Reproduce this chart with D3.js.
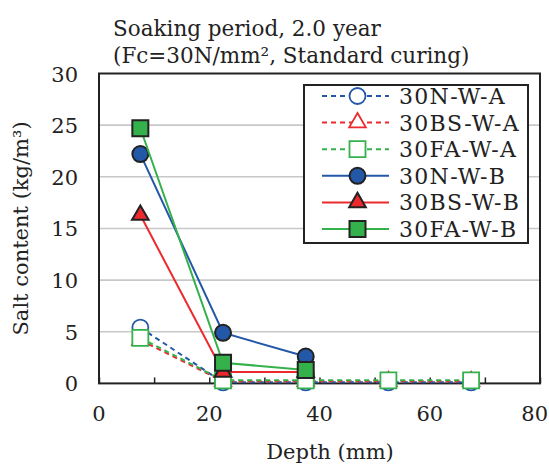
<!DOCTYPE html>
<html>
<head>
<title></title>
<script src='https://d3js.org/d3.v7.min.js'></script>
<style>
body {margin:0; background:white;}
text {font-family:"DejaVu Serif", serif; fill:#222;}
</style>
</head>
<body onload='init()'>
<svg width=549 height=466></svg>
<script>
// depth of each slice centre (mm)
var depth = [7.5, 22.5, 37.5, 52.5, 67.5];
var seriesNames = ["30N-W-A","30BS-W-A","30FA-W-A","30N-W-B","30BS-W-B","30FA-W-B"];
var n_w_a  = [5.4, 0.1, 0.1, 0.1, 0.1];
var bs_w_a = [4.2, 0.2, 0.2, 0.2, 0.2];
var fa_w_a = [4.4, 0.3, 0.3, 0.3, 0.3];
var n_w_b  = [22.2, 4.9, 2.6];
var bs_w_b = [16.3, 1.1, 1.1];
var fa_w_b = [24.7, 2.0, 1.3];
var xTicks = [0, 20, 40, 60, 80];
var yTicks = [0, 5, 10, 15, 20, 25, 30];

function init() {
var svg = d3.select("svg");
var left = 99, right = 540, top = 73.5, bottom = 383.4;
var x = d3.scaleLinear().domain([0,80]).range([left,right]);
var y = d3.scaleLinear().domain([0,30]).range([bottom,top]);

var blue = "#2357a8", red = "#ec2a2e", green = "#35b14c";
var series = [
  {name:seriesNames[0], vals:n_w_a,  color:blue,  shape:d3.symbolCircle,   size:201, dash:"5,4", open:true},
  {name:seriesNames[1], vals:bs_w_a, color:red,   shape:d3.symbolTriangle, size:120, dash:"5,4", open:true},
  {name:seriesNames[2], vals:fa_w_a, color:green, shape:d3.symbolSquare,   size:256, dash:"5,4", open:true},
  {name:seriesNames[3], vals:n_w_b,  color:blue,  shape:d3.symbolCircle,   size:201, dash:null,  open:false},
  {name:seriesNames[4], vals:bs_w_b, color:red,   shape:d3.symbolTriangle, size:120, dash:null,  open:false},
  {name:seriesNames[5], vals:fa_w_b, color:green, shape:d3.symbolSquare,   size:256, dash:null,  open:false}
];

//gridlines
svg.append("g").selectAll("line")
 .data(yTicks.slice(1,-1))
 .enter().append("line")
 .attr("x1",left).attr("x2",right)
 .attr("y1",function(d){return y(d);}).attr("y2",function(d){return y(d);})
 .attr("stroke","#c8c8c8").attr("stroke-width",1.6);

//x axis with inward ticks
var xAxis = svg.append("g")
 .attr("transform","translate(0,"+bottom+")")
 .call(d3.axisBottom(x).tickValues(d3.range(0,81,10)).tickSize(-6).tickFormat(""));
xAxis.select(".domain").remove();
xAxis.selectAll("line").attr("stroke","#222").attr("stroke-width",1.5);
svg.append("g").selectAll("text")
 .data(xTicks)
 .enter().append("text")
 .attr("x",function(d,i){return i==xTicks.length-1 ? 548 : x(d);})
 .attr("y",bottom+38)
 .attr("text-anchor",function(d,i){return i==xTicks.length-1 ? "end" : "middle";})
 .style("font-size","21px")
 .text(function(d){return d;});

//y labels
svg.append("g").selectAll("text")
 .data(yTicks)
 .enter().append("text")
 .attr("x",78)
 .attr("y",function(d){return y(d)+8;})
 .attr("text-anchor","end")
 .style("font-size","21px")
 .text(function(d){return d;});

//plot frame
svg.append("rect")
 .attr("x",left).attr("y",top)
 .attr("width",right-left).attr("height",bottom-top)
 .attr("fill","none").attr("stroke","#222").attr("stroke-width",2);

//series
var line = d3.line()
 .x(function(d,i){return x(depth[i]);})
 .y(function(d){return y(d);});
series.forEach(function(s){
  var g = svg.append("g");
  g.append("path")
   .attr("d",line(s.vals))
   .attr("fill","none")
   .attr("stroke",s.color)
   .attr("stroke-width",2)
   .attr("stroke-dasharray",s.dash);
  g.selectAll("path.m")
   .data(s.vals)
   .enter().append("path")
   .attr("class","m")
   .attr("d",d3.symbol().type(s.shape).size(s.size))
   .attr("transform",function(d,i){return "translate("+x(depth[i])+","+y(d)+")";})
   .attr("fill",s.open ? "white" : s.color)
   .attr("stroke",s.open ? s.color : "#222")
   .attr("stroke-width",s.open ? 1.8 : 2);
});

//legend
svg.append("rect")
 .attr("x",304).attr("y",85).attr("width",224).attr("height",158)
 .attr("fill","white").attr("stroke","#222").attr("stroke-width",2);
series.forEach(function(s,i){
  var ly = 96 + i*26.6;
  svg.append("line")
   .attr("x1",322).attr("x2",389).attr("y1",ly).attr("y2",ly)
   .attr("stroke",s.color).attr("stroke-width",2)
   .attr("stroke-dasharray",s.dash);
  svg.append("path")
   .attr("d",d3.symbol().type(s.shape).size(s.size))
   .attr("transform","translate(357.5,"+ly+")")
   .attr("fill",s.open ? "white" : s.color)
   .attr("stroke",s.open ? s.color : "#222")
   .attr("stroke-width",s.open ? 1.8 : 2);
  svg.append("text")
   .attr("x",399).attr("y",ly+8)
   .style("font-size","22px")
   .style("letter-spacing","1.3px")
   .text(s.name);
});

//titles
svg.append("text").attr("x",113).attr("y",36).style("font-size","21.5px").text("Soaking period, 2.0 year");
svg.append("text").attr("x",113).attr("y",63).style("font-size","21.5px").text("(Fc=30N/mm², Standard curing)");
svg.append("text")
 .attr("transform","translate(28,"+((top+bottom)/2)+") rotate(-90)")
 .attr("text-anchor","middle")
 .style("font-size","21px")
 .text("Salt content (kg/m³)");
svg.append("text")
 .attr("x",330).attr("y",459)
 .attr("text-anchor","middle")
 .style("font-size","21px")
 .text("Depth (mm)");
}
</script>
</body>
</html>
